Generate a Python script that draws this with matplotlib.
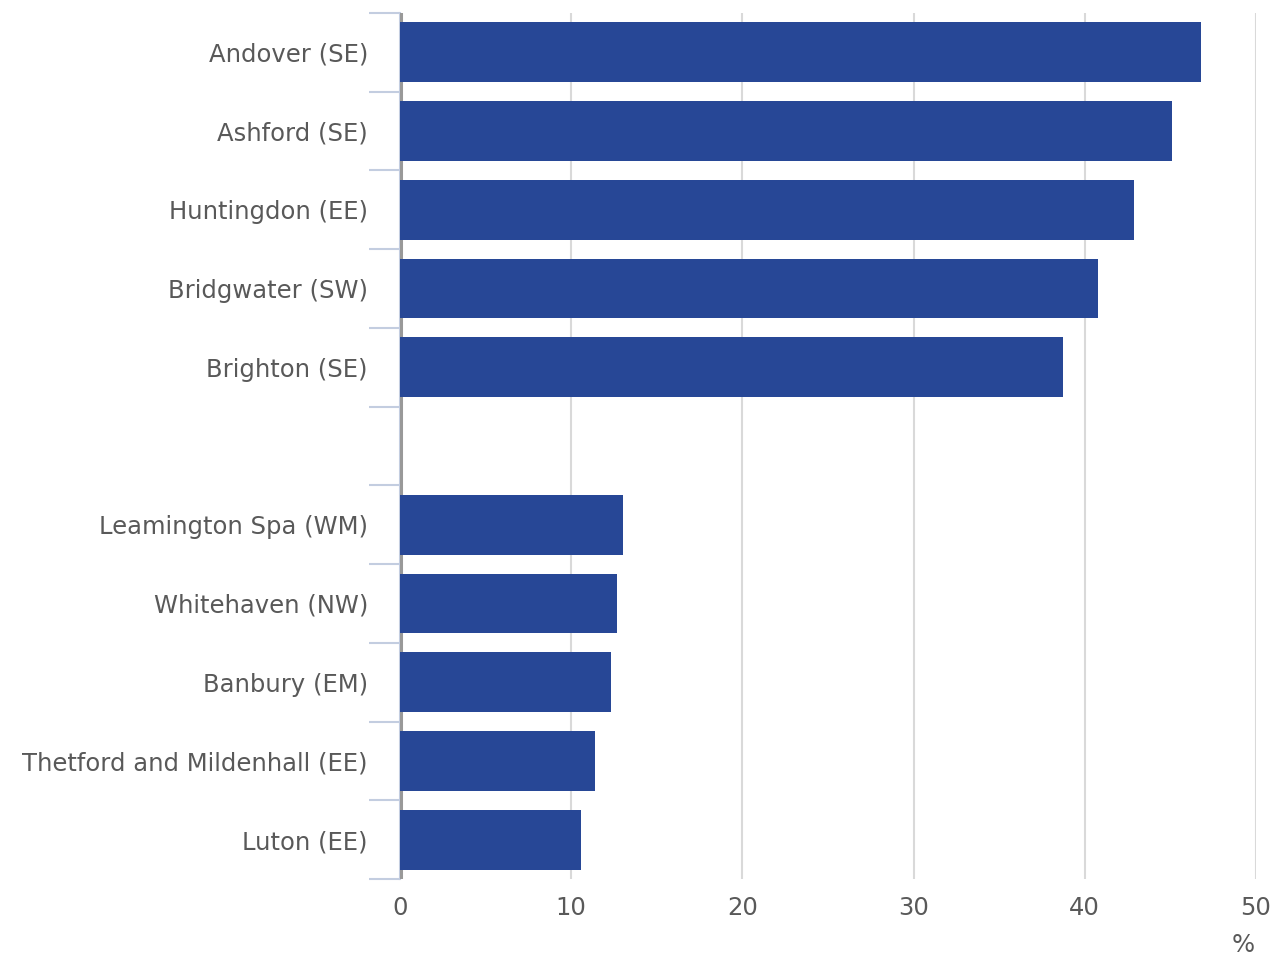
import matplotlib
matplotlib.use("Agg")
import matplotlib.pyplot as plt
import numpy as np

plt.rcParams['font.family'] = ['DejaVu Sans']

places = ["Andover (SE)", "Ashford (SE)", "Huntingdon (EE)", "Bridgwater (SW)",
          "Brighton (SE)", "", "Leamington Spa (WM)", "Whitehaven (NW)",
          "Banbury (EM)", "Thetford and Mildenhall (EE)", "Luton (EE)"]
share = [46.8, 45.1, 42.9, 40.8, 38.7, 0, 13.0, 12.7, 12.3, 11.4, 10.6]
xticks = [0, 10, 20, 30, 40, 50]

text_col = "#595959"
bar_col = "#274796"
axis_col = "#c3cde0"

fig = plt.figure(figsize=(12.79, 9.6), dpi=100)
ax = fig.add_axes([0.3127, 0.0844, 0.6693, 0.9021])

y = np.arange(len(places))
# zero line shows only in the gaps between bars
ax.axvline(0.07, color="#999999", lw=2.2, zorder=2.6)
ax.barh(y, share, height=0.76, color=bar_col, zorder=3)

ax.set_ylim(len(places) - 0.5, -0.5)
ax.set_xlim(0, 50)

ax.set_yticks(y)
ax.set_yticklabels(places, fontsize=17.5, color=text_col)
ax.set_yticks(np.arange(len(places) + 1) - 0.5, minor=True)
ax.tick_params(axis="y", which="major", length=0, pad=23)
ax.tick_params(axis="y", which="minor", length=22, width=1.5, color=axis_col)

ax.set_xticks(xticks)
ax.set_xticklabels([str(v) for v in xticks], fontsize=17.5, color=text_col)
ax.tick_params(axis="x", length=0, pad=12)
ax.grid(axis="x", color="#d9d9d9", lw=1.5, zorder=0)
ax.set_axisbelow(True)

for s in ["top", "right", "bottom"]:
    ax.spines[s].set_visible(False)
ax.spines["left"].set_color(axis_col)
ax.spines["left"].set_linewidth(1.5)

fig.text(0.972, 0.003, "%", fontsize=17.5, color=text_col, ha="center", va="bottom")

fig.savefig("out.png", dpi=100)
